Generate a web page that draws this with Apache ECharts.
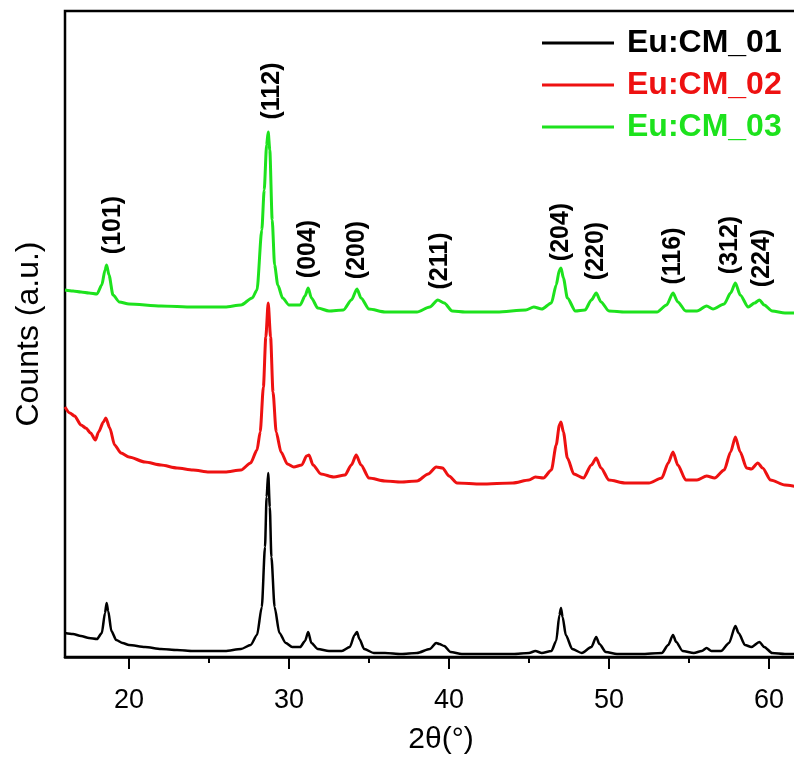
<!DOCTYPE html>
<html>
<head>
<meta charset="utf-8">
<script src="https://cdn.jsdelivr.net/npm/echarts@6/dist/echarts.min.js"></script>
<style>html,body{margin:0;padding:0;background:#fff;}#chart{width:794px;height:760px;}</style>
</head>
<body>
<div id="chart"></div>
<script>
// ---- data (2θ in degrees, counts in a.u.) ----
const seriesNames = ['Eu:CM_01', 'Eu:CM_02', 'Eu:CM_03'];

const cm01 = [
  [16.0,24],[16.5,23],[17.0,21],[17.5,19],[18.0,18],[18.3,24],[18.5,44],[18.6,54],[18.7,46],[18.9,26],
  [19.2,17],[19.6,14],[20,12],[21,10],[22,8],[23,7],[24,6],[25,6],[26,6],[27,8],[27.6,12],[28.0,22],
  [28.3,50],[28.5,110],[28.6,160],[28.7,184],[28.8,150],[28.9,100],[29.1,50],[29.4,24],[29.8,14],[30.2,10],
  [30.7,10],[31.0,16],[31.2,25],[31.4,14],[31.8,8],[32.5,6],[33.3,6],[33.8,10],[34.1,22],[34.25,25],[34.4,18],
  [34.7,8],[35.3,4],[36,4],[37,3],[38,4],[38.8,8],[39.2,14],[39.4,13],[39.7,11],[40.1,5],[40.8,3],[42,3],
  [44,3],[45.0,4],[45.4,6],[45.8,4],[46.4,6],[46.7,16],[46.9,42],[47.0,49],[47.1,40],[47.3,22],[47.7,8],
  [48.3,4],[48.9,10],[49.2,20],[49.4,13],[49.8,5],[50.5,3],[52,3],[53.3,4],[53.7,12],[54.0,22],[54.2,15],
  [54.6,6],[55.3,4],[55.8,6],[56.1,9],[56.4,6],[57.0,6],[57.5,14],[57.9,31],[58.1,24],[58.5,12],[58.9,10],
  [59.4,15],[59.7,10],[60.2,4],[61,3],[62,3],[63,3]
];

const cm02 = [
  [16.0,250],[16.3,244],[16.6,241],[17.0,232],[17.3,229],[17.6,224],[17.9,217],[18.1,225],[18.4,235],[18.55,239],
  [18.8,229],[19.1,212],[19.5,204],[20,200],[21,195],[22,192],[23,189],[24,187],[25,185],[26,185],[27,187],
  [27.6,194],[28.0,207],[28.2,225],[28.4,270],[28.55,320],[28.7,354],[28.85,320],[29.0,265],[29.2,225],
  [29.5,205],[29.9,193],[30.3,190],[30.8,192],[31.1,201],[31.25,202],[31.5,192],[32,183],[32.8,180],[33.5,182],
  [33.9,192],[34.2,202],[34.5,192],[35,179],[36,176],[37,175],[38,176],[38.7,183],[39.2,190],[39.6,189],
  [40.0,181],[40.5,174],[42,173],[44,174],[45,177],[45.4,180],[45.9,179],[46.4,187],[46.7,212],[46.9,232],
  [47.0,235],[47.15,225],[47.4,199],[47.8,183],[48.4,179],[48.9,192],[49.2,199],[49.5,189],[50.0,177],[51,174],
  [52.5,174],[53.3,179],[53.7,194],[54.0,205],[54.3,192],[54.8,177],[55.5,177],[56.1,181],[56.6,179],[57.2,187],
  [57.6,205],[57.9,220],[58.2,205],[58.6,189],[58.9,188],[59.3,194],[59.6,189],[60.1,177],[61,172],[62,170],[63,169]
];

const cm03 = [
  [16.0,367],[16.5,366],[17.0,365],[17.5,364],[18.0,363],[18.3,372],[18.5,387],[18.6,392],[18.75,382],[19.0,362],
  [19.4,355],[20,353],[22,351],[24,350],[26,350],[27,352],[27.7,359],[28.0,367],[28.3,427],[28.45,467],[28.6,512],
  [28.7,525],[28.8,507],[28.95,437],[29.1,392],[29.3,372],[29.6,359],[30.0,352],[30.7,352],[31.0,361],[31.2,369],
  [31.4,359],[31.8,349],[32.5,346],[33.4,347],[33.9,357],[34.25,368],[34.5,359],[35.0,348],[36,345],[38,345],
  [38.8,350],[39.3,357],[39.7,354],[40.2,346],[41,345],[43,345],[44.8,347],[45.3,350],[45.8,348],[46.4,354],
  [46.7,372],[46.9,387],[47.0,389],[47.15,379],[47.4,359],[47.9,346],[48.5,347],[48.9,357],[49.2,364],[49.5,355],
  [50.0,346],[51,345],[53,345],[53.6,352],[54.0,364],[54.3,355],[54.8,346],[55.5,346],[56.1,351],[56.5,348],
  [57.2,353],[57.6,364],[57.9,374],[58.2,362],[58.7,350],[59.1,354],[59.4,357],[59.7,352],[60.2,346],[61,344],
  [62,344],[63,343]
];

// Miller-index annotations: label text, 2θ of label centre, height of label centre
const peakLabels = ['(101)','(112)','(004)','(200)','(211)','(204)','(220)','(116)','(312)','(224)'];
const peakAngles = [19.0, 28.94, 31.19, 34.25, 39.44, 47.0, 49.19, 54.0, 57.56, 59.56];
const peakLabelHeights = [432, 566, 408, 407, 396, 425, 406, 401, 412, 399];

const majorTicks = [20, 30, 40, 50, 60];
const minorTicks = [25, 35, 45, 55];

// ---- chart ----
const colors = ['#000000', '#ee1111', '#1de21d'];
const font = 'Arial, "Liberation Sans", sans-serif';

const labelData = peakAngles.map((a, i) => [a, peakLabelHeights[i]]);
const tickData = majorTicks.concat(minorTicks).map(v => [v, 0]);

const chart = echarts.init(document.getElementById('chart'), null, {renderer: 'canvas'});
chart.setOption({
  animation: false,
  backgroundColor: '#ffffff',
  grid: {
    left: 65, top: 11, bottom: 103, right: -23,
    outerBoundsMode: 'none', containLabel: false,
    show: true, borderColor: '#000', borderWidth: 2.5, backgroundColor: 'transparent'
  },
  legend: {
    orient: 'vertical', left: 537, top: 22,
    icon: 'rect', itemWidth: 72, itemHeight: 3, itemGap: 10,
    textStyle: {fontSize: 32, fontWeight: 'bold', fontFamily: font, padding: [0, 0, 0, 8]},
    data: seriesNames.map((n, i) => ({name: n, textStyle: {color: colors[i]}}))
  },
  xAxis: {
    type: 'value', min: 16, max: 63, position: 'bottom',
    name: '2θ(°)', nameLocation: 'middle', nameGap: 68,
    nameTextStyle: {fontSize: 30, fontFamily: font, color: '#000'},
    axisLine: {show: true, lineStyle: {color: '#000', width: 2.5}},
    axisTick: {show: false},
    axisLabel: {show: true, fontSize: 27, fontFamily: font, color: '#000', margin: 26,
      padding: [4, 0, 0, 0], customValues: majorTicks},
    splitLine: {show: false}
  },
  yAxis: {
    type: 'value', min: 0, max: 646,
    name: 'Counts (a.u.)', nameLocation: 'middle', nameGap: 20,
    nameTextStyle: {fontSize: 32, fontFamily: font, color: '#000'},
    axisLine: {show: false}, axisTick: {show: false}, axisLabel: {show: false}, splitLine: {show: false}
  },
  series: [
    {name: seriesNames[0], type: 'line', data: cm01, showSymbol: false, smooth: 0.25, smoothMonotone: 'x',
     lineStyle: {color: colors[0], width: 2.5}, itemStyle: {color: colors[0]}},
    {name: seriesNames[1], type: 'line', data: cm02, showSymbol: false, smooth: 0.25, smoothMonotone: 'x',
     lineStyle: {color: colors[1], width: 3}, itemStyle: {color: colors[1]}},
    {name: seriesNames[2], type: 'line', data: cm03, showSymbol: false, smooth: 0.25, smoothMonotone: 'x',
     lineStyle: {color: colors[2], width: 3}, itemStyle: {color: colors[2]}},
    {name: 'hkl', type: 'custom', data: labelData, silent: true, encode: {x: 0, y: 1},
     renderItem: (params, api) => {
       const p = api.coord([api.value(0), api.value(1)]);
       return {type: 'text', x: p[0], y: p[1], rotation: Math.PI / 2,
         style: {text: peakLabels[params.dataIndex], fill: '#000', align: 'center', verticalAlign: 'middle',
           font: 'bold 25px ' + font}};
     }},
    {name: 'ticks', type: 'custom', data: tickData, silent: true, clip: false, encode: {x: 0, y: 1}, z: 10,
     renderItem: (params, api) => {
       const p = api.coord([api.value(0), api.value(1)]);
       const len = params.dataIndex < majorTicks.length ? 12 : 6;
       return {type: 'rect', shape: {x: p[0] - 1, y: p[1], width: 2, height: len},
         style: {fill: '#000'}};
     }}
  ]
});
</script>
</body>
</html>
